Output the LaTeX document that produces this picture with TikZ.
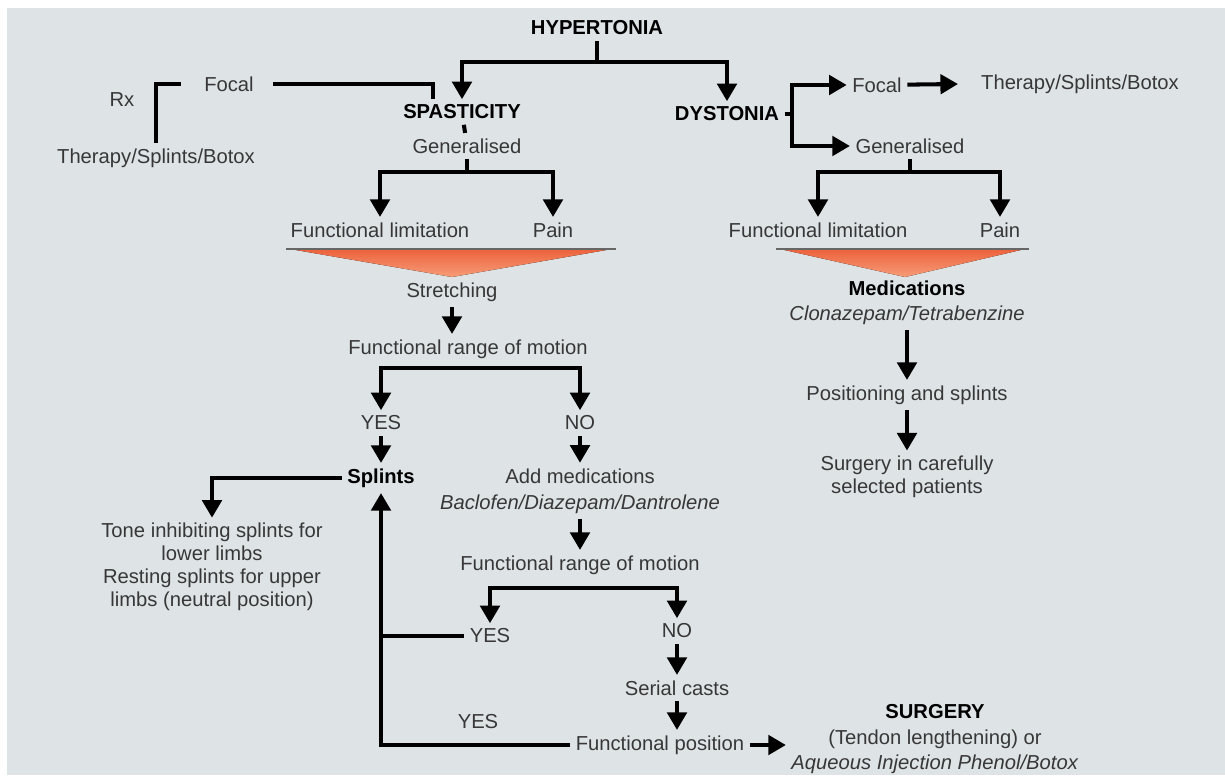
\documentclass[tikz,border=0pt]{standalone}
\usepackage{fontspec}
\setmainfont{Liberation Sans}
\usetikzlibrary{arrows.meta}
\definecolor{fond}{RGB}{222,227,230}
\definecolor{texte}{RGB}{55,55,55}
\definecolor{funtop}{RGB}{236,98,60}
\definecolor{funbot}{RGB}{246,156,120}

\begin{document}
\begin{tikzpicture}[x=0.02cm,y=-0.02cm,
	txt/.style={font=\fontsize{11.5}{13}\selectfont,text=texte,inner sep=3pt,align=center},
	hd/.style={txt,font=\fontsize{11.5}{13}\selectfont\bfseries,text=black},
	wire/.style={draw=black,line width=2.3pt},
	flow/.style={wire,-{Triangle[length=10pt,width=11pt]}},
	funnel/.style={top color=funtop,bottom color=funbot},
	rim/.style={draw=gray!80!black,line width=1.2pt},
	]
	
	\fill[white] (0,0) rectangle (1225,775);
	\fill[fond] (7,8) rectangle (1225,775);
	\useasboundingbox (0,0) rectangle (1225,775);
	
	% top
	\node[hd] (hyp) at (597,28) {HYPERTONIA};
	\node[hd] (spas) at (462,112) {SPASTICITY};
	\node[hd] (dys) at (727,114) {DYSTONIA};
	\coordinate (h) at (597,62);
	\draw[wire] (hyp) -- (h);
	\draw[flow] (h) -| (spas);
	\draw[flow] (h) -| (dys);
	
	% spasticity
	\node[txt] (focl) at (229,84) {Focal};
	\node[txt] (rx) at (122,100) {Rx};
	\node[txt] (therl) at (156,158) {Therapy/Splints/Botox};
	\node[txt] (genl) at (467,146) {Generalised};
	\draw[wire] ([xshift=-0.58cm]spas.north) |- ([xshift=8pt]focl.east);
	\draw[wire] ([xshift=-10pt]focl.west) -| (therl);
	\draw[wire] (spas) -- (genl);
	
	\node[txt] (fl1) at (380,230) {Functional limitation};
	\node[txt] (pain1) at (553,230) {Pain};
	\coordinate (g1) at (467,172);
	\draw[wire] (genl) -- (g1);
	\draw[flow] (g1) -| (fl1);
	\draw[flow] (g1) -| (pain1);
	\fill[funnel] (290,249) -- (612,249) -- (452,277) -- cycle;
	\draw[rim] (286,249) -- (616,249);
	
	\node[txt] (stretch) at (452,292) {Stretching};
	\node[txt] (range1) at (468,349) {Functional range of motion};
	\node[txt] (yes1) at (381,423) {YES};
	\node[txt] (no1) at (580,423) {NO};
	\draw[flow] (stretch) -- (stretch |- range1.north);
	\coordinate (r1) at (480,368);
	\draw[flow] (r1) -| (yes1);
	\draw[flow] (r1) -| (no1);
	
	\node[hd] (splints) at (381,478) {Splints};
	\node[txt] (addmed) at (580,491) {Add medications\\[2pt] \textit{Baclofen/Diazepam/Dantrolene}};
	\node[txt] (tone) at (212,567) {Tone inhibiting splints for\\lower limbs\\Resting splints for upper\\limbs (neutral position)};
	\draw[flow] (yes1) -- (splints);
	\draw[flow] (no1) -- (addmed);
	\draw[flow] (splints) -| (tone);
	
	\node[txt] (range2) at (580,565) {Functional range of motion};
	\node[txt] (yes2) at (490,636) {YES};
	\node[txt] (no2) at (677,631) {NO};
	\node[txt] (serial) at (677,688) {Serial casts};
	\node[txt] (fpos) at (660,745) {Functional position};
	\node[txt] (yes3) at (478,722) {YES};
	\node[txt] (surg) at (935,739) {\textbf{\color{black}SURGERY}\\[2pt](Tendon lengthening) or\\[1pt] \textit{Aqueous Injection Phenol/Botox}};
	\draw[flow] (addmed) -- (range2);
	\coordinate (r2) at (583,588);
	\draw[flow] (r2) -| (yes2);
	\draw[flow] (r2) -| (no2);
	\draw[flow] (no2) -- (serial);
	\draw[flow] (serial) -- (serial |- fpos.north);
	\draw[flow] (fpos) -| (splints);
	\draw[wire] (yes2) -- (yes2 -| splints);
	\draw[flow] (fpos) -- (fpos -| surg.west);
	
	% dystonia
	\node[txt] (focr) at (877,85) {Focal};
	\node[txt] (therr) at (1080,84) {Therapy/Splints/Botox};
	\node[txt] (genr) at (910,146) {Generalised};
	\coordinate (d) at (792,114);
	\draw[wire] (dys) -- (d);
	\draw[flow] (d) |- (focr);
	\draw[flow] (d) |- (genr);
	\draw[flow] (focr) -- ([xshift=-10pt]therr.west);
	
	\node[txt] (fl2) at (818,230) {Functional limitation};
	\node[txt] (pain2) at (1000,230) {Pain};
	\coordinate (g2) at (910,172);
	\draw[wire] (genr) -- (g2);
	\draw[flow] (g2) -| (fl2);
	\draw[flow] (g2) -| (pain2);
	\fill[funnel] (780,249) -- (1025,249) -- (905,277) -- cycle;
	\draw[rim] (776,249) -- (1029,249);
	
	\node[txt] (meds) at (907,303) {\textbf{\color{black}Medications}\\[1pt] \textit{Clonazepam/Tetrabenzine}};
	\node[txt] (posit) at (907,395) {Positioning and splints};
	\node[txt] (surgsel) at (907,477) {Surgery in carefully\\selected patients};
	\draw[flow] (meds) -- (posit);
	\draw[flow] (posit) -- (surgsel);

\end{tikzpicture}
\end{document}
